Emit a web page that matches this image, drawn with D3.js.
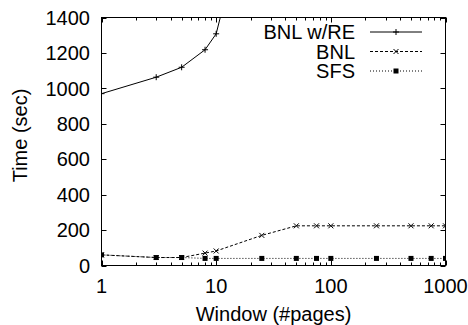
<!DOCTYPE html>
<html>
<head>
<meta charset="utf-8">
<script src="https://cdn.jsdelivr.net/npm/d3@7"></script>
<style>
  body { margin: 0; background: #fff; }
  text { font-family: "Liberation Sans", Arial, sans-serif; fill: #000; }
</style>
</head>
<body>
<svg width="468" height="325"></svg>
<script>
// window sizes (#pages) on the log x axis
const windows = [1, 3, 5, 8, 10, 25, 50, 75, 100, 250, 500, 750, 1000];
// BNL w/RE shoots off the top after window 10 (last point is clipped)
const bnlRe = [970, 1063, 1119, 1218, 1308, 2330];
const bnl = [60, 45, 45, 70, 82, 170, 224, 224, 224, 224, 224, 224, 224];
const sfs = [60, 45, 45, 40, 40, 40, 40, 40, 40, 40, 40, 40, 40];
const yTicks = [0, 200, 400, 600, 800, 1000, 1200, 1400];
const xTicks = [1, 10, 100, 1000];

const svg = d3.select("svg");
const pLeft = 101.5, pRight = 445.5, pTop = 17.5, pBottom = 265.5;

const x = d3.scaleLog().domain([1, 1000]).range([pLeft, pRight]);
const y = d3.scaleLinear().domain([0, 1400]).range([pBottom, pTop]);

// minor ticks 2..9 in every decade
const minor = [];
for (let d = 1; d < 1000; d *= 10) {
    for (let k = 2; k <= 9; k++) minor.push(d * k);
}

const ax = svg.append("g").attr("stroke", "#000").attr("stroke-width", 1);

// ticks, mirrored on all four sides like gnuplot does
yTicks.forEach(function(v){
    const yy = Math.round(y(v)) + 0.5;
    ax.append("line").attr("x1", pLeft).attr("x2", pLeft + 5).attr("y1", yy).attr("y2", yy);
    ax.append("line").attr("x1", pRight).attr("x2", pRight - 5).attr("y1", yy).attr("y2", yy);
});
xTicks.forEach(function(v){
    const xx = Math.round(x(v)) + 0.5;
    ax.append("line").attr("x1", xx).attr("x2", xx).attr("y1", pBottom).attr("y2", pBottom - 5);
    ax.append("line").attr("x1", xx).attr("x2", xx).attr("y1", pTop).attr("y2", pTop + 5);
});
minor.forEach(function(v){
    const xx = Math.round(x(v)) + 0.5;
    ax.append("line").attr("x1", xx).attr("x2", xx).attr("y1", pBottom).attr("y2", pBottom - 3);
    ax.append("line").attr("x1", xx).attr("x2", xx).attr("y1", pTop).attr("y2", pTop + 3);
});

ax.append("rect")
    .attr("x", pLeft).attr("y", pTop)
    .attr("width", pRight - pLeft).attr("height", pBottom - pTop)
    .attr("fill", "none");

// tick labels
svg.selectAll(".ylab").data(yTicks).enter().append("text")
    .attr("x", 90).attr("y", d => y(d)).attr("dy", "0.36em")
    .attr("text-anchor", "end").attr("font-size", 20)
    .text(d => d);
svg.selectAll(".xlab").data(xTicks).enter().append("text")
    .attr("x", d => x(d)).attr("y", 293)
    .attr("text-anchor", "middle").attr("font-size", 20)
    .text(d => d);

// axis titles
svg.append("text")
    .attr("x", (pLeft + pRight) / 2).attr("y", 321)
    .attr("text-anchor", "middle").attr("font-size", 20)
    .text("Window (#pages)");
svg.append("text")
    .attr("transform", "translate(27," + ((pTop + pBottom) / 2 - 6) + ") rotate(-90)")
    .attr("text-anchor", "middle").attr("font-size", 20)
    .text("Time (sec)");

svg.append("clipPath").attr("id", "plot")
    .append("rect").attr("x", pLeft).attr("y", pTop)
    .attr("width", pRight - pLeft).attr("height", pBottom - pTop);

const series = [
    {name: "BNL w/RE", values: bnlRe, dash: null, marker: "plus"},
    {name: "BNL", values: bnl, dash: "3,2", marker: "cross"},
    {name: "SFS", values: sfs, dash: "1,2", marker: "square"}
];

function drawMarker(g, kind, px, py){
    if (kind === "plus"){
        g.append("path").attr("d", `M${px-3},${py}H${px+3}M${px},${py-3}V${py+3}`)
            .attr("stroke", "#000").attr("stroke-width", 1);
    } else if (kind === "cross"){
        g.append("path").attr("d", `M${px-2.5},${py-2.5}L${px+2.5},${py+2.5}M${px-2.5},${py+2.5}L${px+2.5},${py-2.5}`)
            .attr("stroke", "#000").attr("stroke-width", 1);
    } else {
        g.append("rect").attr("x", px - 2.5).attr("y", py - 2.5)
            .attr("width", 5).attr("height", 5).attr("fill", "#000");
    }
}

const plot = svg.append("g").attr("clip-path", "url(#plot)");
const line = d3.line().x(d => x(d[0])).y(d => y(d[1]));

series.forEach(function(s){
    const pts = s.values.map((v, i) => [windows[i], v]);
    plot.append("path").datum(pts)
        .attr("d", line)
        .attr("fill", "none").attr("stroke", "#000").attr("stroke-width", 1)
        .attr("stroke-dasharray", s.dash);
    pts.forEach(p => drawMarker(plot, s.marker, x(p[0]), y(p[1])));
});

// legend
const legend = svg.append("g");
series.forEach(function(s, i){
    const ly = 32 + i * 19.5;
    legend.append("text")
        .attr("x", 355).attr("y", ly).attr("dy", "0.36em")
        .attr("text-anchor", "end").attr("font-size", 20)
        .text(s.name);
    legend.append("line")
        .attr("x1", 370).attr("x2", 422).attr("y1", ly).attr("y2", ly)
        .attr("stroke", "#000").attr("stroke-width", 1)
        .attr("stroke-dasharray", s.dash);
    drawMarker(legend, s.marker, 396, ly);
});
</script>
</body>
</html>
